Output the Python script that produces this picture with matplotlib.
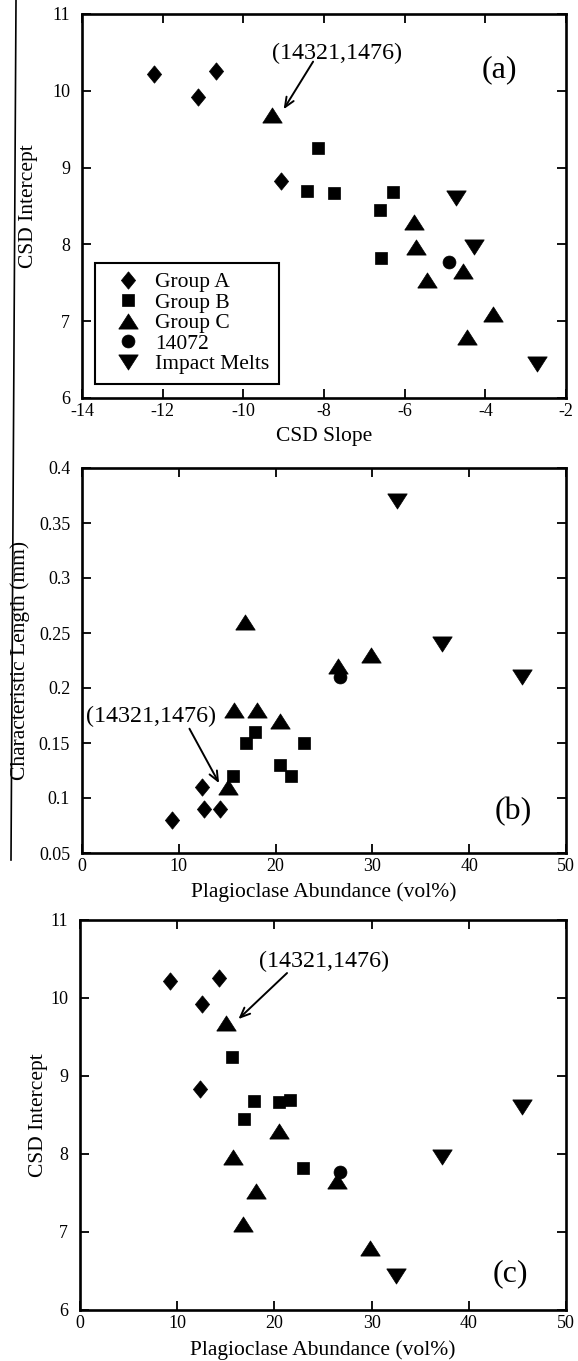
import matplotlib
matplotlib.use("Agg")
import matplotlib.pyplot as plt
from matplotlib.lines import Line2D
import numpy as np

plt.rcParams['font.family'] = ['Liberation Serif', 'DejaVu Serif']
plt.rcParams['axes.unicode_minus'] = False

# ---------------- data ----------------
group_names = ["Group A", "Group B", "Group C", "14072", "Impact Melts"]

# Group A
a_slope = [-12.21, -11.12, -10.68, -9.06]
a_int = [10.22, 9.92, 10.26, 8.83]
a_plag = [9.3, 12.6, 14.3, 12.35]
a_len = [0.08, 0.09, 0.09, 0.11]

# Group B
b_slope = [-8.16, -6.61, -6.30, -7.75, -8.41, -6.58]
b_int = [9.25, 8.45, 8.68, 8.67, 8.69, 7.82]
b_plag = [15.6, 16.9, 17.9, 20.5, 21.6, 22.9]
b_len = [0.12, 0.15, 0.16, 0.13, 0.12, 0.15]

# Group C
c_slope = [-9.29, -5.77, -5.71, -5.44, -4.56, -3.82, -4.45]
c_int = [9.68, 8.29, 7.96, 7.53, 7.66, 7.10, 6.80]
c_plag = [15.05, 20.45, 15.7, 18.1, 26.45, 16.8, 29.85]
c_len = [0.11, 0.17, 0.18, 0.18, 0.22, 0.26, 0.23]

# 14072
s_slope = [-4.89]
s_int = [7.77]
s_plag = [26.7]
s_len = [0.21]

# Impact melts
m_slope = [-4.73, -4.29, -2.71]
m_int = [8.60, 7.96, 6.44]
m_plag = [45.5, 37.2, 32.55]
m_len = [0.21, 0.24, 0.37]

slope_ticks = [-14, -12, -10, -8, -6, -4, -2]
int_ticks = [6, 7, 8, 9, 10, 11]
plag_ticks = [0, 10, 20, 30, 40, 50]
len_ticks = [0.05, 0.1, 0.15, 0.2, 0.25, 0.3, 0.35, 0.4]
len_ticklabels = ["0.05", "0.1", "0.15", "0.2", "0.25", "0.3", "0.35", "0.4"]

# ---------------- marker styles ----------------
diamond = [(0, 1), (0.82, 0), (0, -1), (-0.82, 0), (0, 1)]
tri_up = [(-1, -0.78), (1, -0.78), (0, 0.78), (-1, -0.78)]
tri_dn = [(-1, 0.78), (1, 0.78), (0, -0.78), (-1, 0.78)]
styles = [
    dict(marker=diamond, ms=12.5),
    dict(marker='s', ms=9.3),
    dict(marker=tri_up, ms=14),
    dict(marker='o', ms=9.3),
    dict(marker=tri_dn, ms=14),
]

W, H = 578, 1361
fig = plt.figure(figsize=(W / 100, H / 100), dpi=100)

def ax_rect(left, top, right, bottom):
    return [left / W, 1 - bottom / H, (right - left) / W, (bottom - top) / H]

ax_a = fig.add_axes(ax_rect(82, 14, 566, 398))
ax_b = fig.add_axes(ax_rect(82, 468, 566, 853))
ax_c = fig.add_axes(ax_rect(80, 920, 566, 1310))

TICK_FS = 13
LABEL_FS = 15.5

def style_axes(ax):
    for sp in ax.spines.values():
        sp.set_linewidth(1.9)
        sp.set_color('k')
    ax.tick_params(direction='in', top=True, right=True, length=6.5, width=1.3,
                   labelsize=TICK_FS, colors='k')
    ax.tick_params(axis='y', pad=8.5)
    ax.tick_params(axis='x', pad=3.5)

def draw(ax, xs, ys):
    handles = []
    for x, y, st, name in zip(xs, ys, styles, group_names):
        h, = ax.plot(x, y, linestyle='none', color='k', mec='k', mew=0.5,
                     label=name, **st)
        handles.append(h)
    return handles

ARROW = dict(arrowstyle='->,head_length=0.7,head_width=0.3', lw=1.4, color='k',
             shrinkA=0, shrinkB=0)
ANN_FS = 17.3
PANEL_FS = 23

# ---------------- panel (a) ----------------
handles = draw(ax_a, [a_slope, b_slope, c_slope, s_slope, m_slope],
               [a_int, b_int, c_int, s_int, m_int])
ax_a.set_xlim(-14, -2)
ax_a.set_ylim(6, 11)
ax_a.set_xticks(slope_ticks)
ax_a.set_yticks(int_ticks)
style_axes(ax_a)
ax_a.set_xlabel("CSD Slope", fontsize=LABEL_FS, va='center')
ax_a.xaxis.set_label_coords(0.5, -39 / 384)
ax_a.set_ylabel("CSD Intercept", fontsize=LABEL_FS, va='center')
ax_a.yaxis.set_label_coords(-54 / 484, 0.5)
ax_a.text(-7.68, 10.49, "(14321,1476)", fontsize=ANN_FS, ha='center', va='center')
ax_a.annotate('', xy=(-9.0, 9.76), xytext=(-8.27, 10.38), arrowprops=ARROW)
ax_a.text(-3.64, 10.27, "(a)", fontsize=PANEL_FS, ha='center', va='center')
leg = ax_a.legend(handles=handles, loc='lower left', bbox_to_anchor=(0.027, 0.036),
                  frameon=True, fancybox=False, edgecolor='k', framealpha=1,
                  fontsize=LABEL_FS, labelspacing=0.02, handlelength=2.2,
                  handletextpad=0.15, borderpad=0.45, borderaxespad=0, numpoints=1)
leg.get_frame().set_linewidth(1.5)

# ---------------- panel (b) ----------------
draw(ax_b, [a_plag, b_plag, c_plag, s_plag, m_plag],
     [a_len, b_len, c_len, s_len, m_len])
ax_b.set_xlim(0, 50)
ax_b.set_ylim(0.05, 0.4)
ax_b.set_xticks(plag_ticks)
ax_b.set_yticks(len_ticks)
ax_b.set_yticklabels(len_ticklabels)
style_axes(ax_b)
ax_b.set_xlabel("Plagioclase Abundance (vol%)", fontsize=LABEL_FS, va='center')
ax_b.xaxis.set_label_coords(0.5, -39 / 385)
ax_b.set_ylabel("Characteristic Length (mm)", fontsize=LABEL_FS, va='center')
ax_b.yaxis.set_label_coords(-62 / 484, 0.5)
ax_b.text(7.13, 0.174, "(14321,1476)", fontsize=ANN_FS, ha='center', va='center')
ax_b.annotate('', xy=(14.16, 0.1135), xytext=(11.1, 0.163), arrowprops=ARROW)
ax_b.text(44.5, 0.088, "(b)", fontsize=PANEL_FS, ha='center', va='center')

# ---------------- panel (c) ----------------
draw(ax_c, [a_plag, b_plag, c_plag, s_plag, m_plag],
     [a_int, b_int, c_int, s_int, m_int])
ax_c.set_xlim(0, 50)
ax_c.set_ylim(6, 11)
ax_c.set_xticks(plag_ticks)
ax_c.set_yticks(int_ticks)
style_axes(ax_c)
ax_c.set_xlabel("Plagioclase Abundance (vol%)", fontsize=LABEL_FS, va='center')
ax_c.xaxis.set_label_coords(0.5, -40 / 390)
ax_c.set_ylabel("CSD Intercept", fontsize=LABEL_FS, va='center')
ax_c.yaxis.set_label_coords(-42 / 486, 0.5)
ax_c.text(25.1, 10.47, "(14321,1476)", fontsize=ANN_FS, ha='center', va='center')
ax_c.annotate('', xy=(16.3, 9.73), xytext=(21.3, 10.32), arrowprops=ARROW)
ax_c.text(44.3, 6.47, "(c)", fontsize=PANEL_FS, ha='center', va='center')

# scanned page edge line on the left
fig.add_artist(Line2D([16 / W, 11 / W], [1.0, 1 - 860 / H], transform=fig.transFigure,
                      color='k', lw=1.2))

fig.savefig("out.png", dpi=100, facecolor='white')
